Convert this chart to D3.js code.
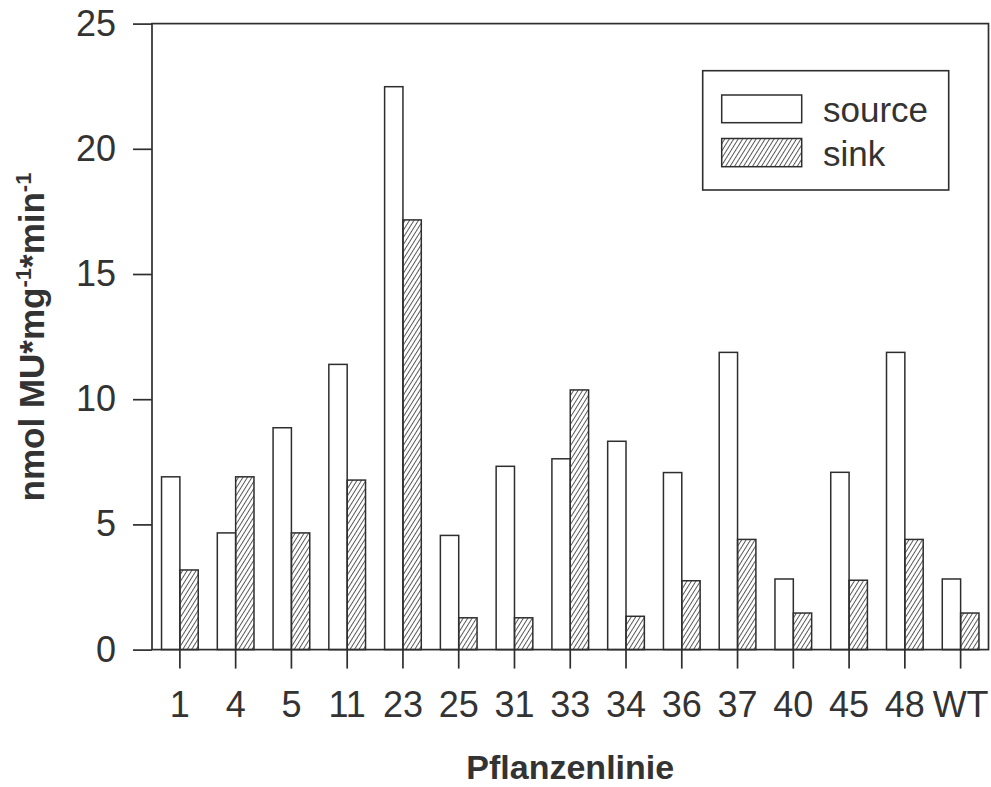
<!DOCTYPE html>
<html>
<head>
<meta charset="utf-8">
<script src="https://cdn.jsdelivr.net/npm/d3@7"></script>
<style>
  html, body { margin: 0; padding: 0; background: #ffffff; }
  svg { display: block; font-family: "Liberation Sans", Arial, Helvetica, sans-serif; }
</style>
</head>
<body>
<svg id="chart" width="991" height="787"></svg>
<script>
// Plant lines and their MU turnover (nmol MU per mg per min)
const categories = ["1", "4", "5", "11", "23", "25", "31", "33", "34", "36", "37", "40", "45", "48", "WT"];
const sourceValues = [6.9, 4.66, 8.86, 11.39, 22.48, 4.56, 7.32, 7.62, 8.32, 7.07, 11.87, 2.82, 7.08, 11.87, 2.82];
const sinkValues = [3.18, 6.9, 4.66, 6.77, 17.16, 1.27, 1.27, 10.37, 1.33, 2.75, 4.40, 1.46, 2.77, 4.40, 1.46];
const seriesNames = ["source", "sink"];
const yTicks = [0, 5, 10, 15, 20, 25];

const W = 991, H = 787;
const margin = { top: 23.6, right: 2.5, bottom: 137.4, left: 152 };
const innerW = W - margin.left - margin.right;
const innerH = H - margin.top - margin.bottom;
const ink = "#2e2e2e";
const tickFont = "36px";

const svg = d3.select("#chart");

// hatch pattern for the sink series
const defs = svg.append("defs");
defs.append("pattern")
  .attr("id", "hatch")
  .attr("patternUnits", "userSpaceOnUse")
  .attr("width", 3.8)
  .attr("height", 10)
  .attr("patternTransform", "rotate(32)")
  .append("line")
  .attr("x1", 0.5).attr("y1", 0)
  .attr("x2", 0.5).attr("y2", 10)
  .attr("stroke", "#444")
  .attr("stroke-width", 0.9);

const g = svg.append("g").attr("transform", `translate(${margin.left},${margin.top})`);

const x = d3.scaleBand().domain(categories).range([0, innerW]).paddingInner(0).paddingOuter(0);
const xs = d3.scaleBand().domain(seriesNames).range([0, x.bandwidth()]).paddingInner(0).paddingOuter(0.52);
const y = d3.scaleLinear().domain([0, 25]).range([innerH, 0]);

const rows = categories.map((c, i) => ({ cat: c, source: sourceValues[i], sink: sinkValues[i] }));

// bars
const groups = g.selectAll("g.cat").data(rows).join("g")
  .attr("class", "cat")
  .attr("transform", d => `translate(${x(d.cat)},0)`);

groups.selectAll("rect").data(d => seriesNames.map(k => ({ key: k, value: d[k] }))).join("rect")
  .attr("x", d => xs(d.key))
  .attr("width", xs.bandwidth())
  .attr("y", d => y(d.value))
  .attr("height", d => y(0) - y(d.value))
  .attr("fill", d => d.key === "sink" ? "url(#hatch)" : "#ffffff")
  .attr("stroke", ink)
  .attr("stroke-width", 1.5);

// frame
g.append("rect")
  .attr("x", 0).attr("y", 0)
  .attr("width", innerW).attr("height", innerH)
  .attr("fill", "none")
  .attr("stroke", ink)
  .attr("stroke-width", 1.7);

// y axis
const yAxis = g.append("g")
  .call(d3.axisLeft(y).tickValues(yTicks).tickSize(19).tickPadding(17).tickFormat(d3.format("d")));
yAxis.select(".domain").remove();
yAxis.selectAll(".tick line").attr("stroke", ink).attr("stroke-width", 1.7);
yAxis.selectAll(".tick text")
  .attr("fill", "#333")
  .style("font-size", tickFont)
  .style("font-family", "'Liberation Sans', Arial, sans-serif");

// x axis
const xAxis = g.append("g")
  .attr("transform", `translate(0,${innerH})`)
  .call(d3.axisBottom(x).tickSize(19).tickPadding(23));
xAxis.select(".domain").remove();
xAxis.selectAll(".tick line").attr("stroke", ink).attr("stroke-width", 1.7);
xAxis.selectAll(".tick text")
  .attr("fill", "#333")
  .style("font-size", tickFont)
  .style("font-family", "'Liberation Sans', Arial, sans-serif");

// axis titles
svg.append("text")
  .attr("x", margin.left + innerW / 2)
  .attr("y", 779)
  .attr("text-anchor", "middle")
  .attr("fill", "#333")
  .style("font-size", "34px")
  .style("font-weight", "bold")
  .text("Pflanzenlinie");

const yTitle = svg.append("text")
  .attr("transform", "translate(44,337) rotate(-90)")
  .attr("text-anchor", "middle")
  .attr("fill", "#333")
  .style("font-size", "35px")
  .style("font-weight", "bold");
yTitle.append("tspan").text("nmol MU*mg");
yTitle.append("tspan").attr("dy", -13).style("font-size", "22px").text("-1");
yTitle.append("tspan").attr("dy", 13).text("*min");
yTitle.append("tspan").attr("dy", -13).style("font-size", "22px").text("-1");

// legend
const legend = svg.append("g");
legend.append("rect")
  .attr("x", 702.7).attr("y", 70.7)
  .attr("width", 246).attr("height", 119.3)
  .attr("fill", "#ffffff")
  .attr("stroke", ink)
  .attr("stroke-width", 1.6);

const legendRows = [
  { key: "source", y: 95, h: 27.7, base: 121.5 },
  { key: "sink", y: 138.5, h: 28.2, base: 166 }
];
legendRows.forEach(r => {
  legend.append("rect")
    .attr("x", 721.7).attr("y", r.y)
    .attr("width", 80).attr("height", r.h)
    .attr("fill", r.key === "sink" ? "url(#hatch)" : "#ffffff")
    .attr("stroke", ink)
    .attr("stroke-width", 1.5);
  legend.append("text")
    .attr("x", 823).attr("y", r.base)
    .attr("fill", "#333")
    .style("font-size", "35px")
    .text(r.key);
});
</script>
</body>
</html>
